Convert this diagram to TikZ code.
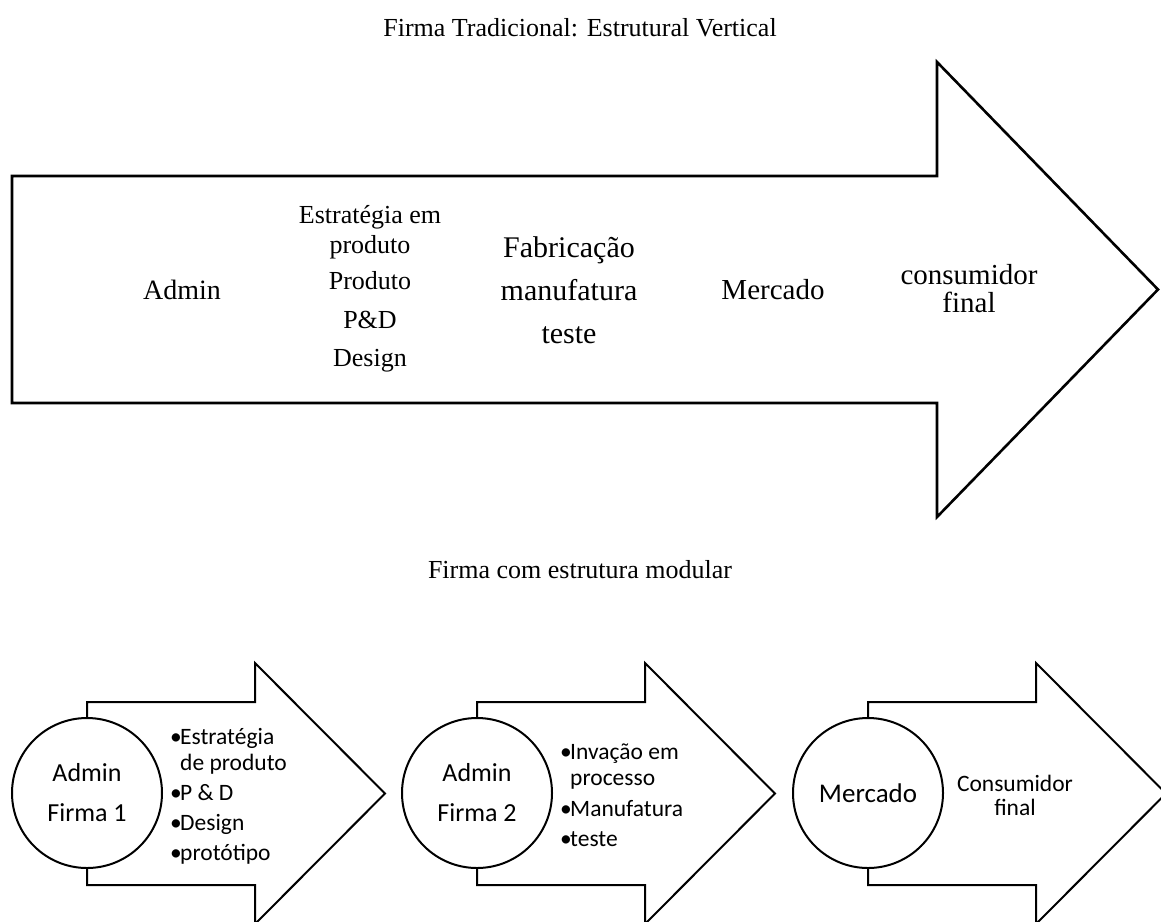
\documentclass[tikz,border=0pt]{standalone}
\usepackage{fontspec}
\setmainfont{Liberation Serif}
\newfontfamily\calibri{Carlito}
\usetikzlibrary{positioning}
\tikzset{
  every picture/.style={x=1pt, y=-1pt, line join=miter},
  title/.style={font=\fontsize{26}{30}\selectfont, inner sep=0pt},
  bigarrow/.style={draw, line width=2.6pt},
  bigtext/.style={align=center, inner sep=0pt, font=\fontsize{#1}{#1}\selectfont},
  bigtext/.default=28,
  smallarrow/.style={draw, line width=2pt},
  disc/.style={draw, line width=2pt, fill=white, circle, minimum size=150pt, inner sep=0pt, align=center, font=\calibri\fontsize{26}{40}\selectfont},
  items/.style={anchor=west, align=left, inner sep=0pt, font=\calibri\fontsize{23.5}{26}\selectfont},
}
\newcommand{\itm}{\makebox[10pt][l]{\textbullet}}
\newcommand{\cont}{\hspace*{10pt}}

\begin{document}
\begin{tikzpicture}
  \useasboundingbox (0,0) rectangle (1161,921);
  \clip (0,0) rectangle (1161,921);
  % vertical firm
  \node[title] (t1) at (580,28) {Firma Tradicional: Estrutural Vertical};
  \draw[bigarrow] (12,176) -- (937,176) -- (937,62) -- (1158,289.5) -- (937,517) -- (937,403) -- (12,403) -- cycle;
  \node[bigtext] (adm) at (182,290) {Admin};
  \node[bigtext=26, font=\fontsize{26}{30}\selectfont] (prd) at (370,289) {Estratégia em\\produto\\[6pt]Produto\\[9pt]P\&D\\[8pt]Design};
  \node[bigtext=30, font=\fontsize{30}{43}\selectfont] (fab) at (569,290) {Fabricação\\manufatura\\teste};
  \node[bigtext=29] (mer) at (773,290) {Mercado};
  \node[bigtext=29, font=\fontsize{29}{28}\selectfont] (con) at (969,289) {consumidor\\final};
  % modular firm
  \node[title] (t2) at (580,570) {Firma com estrutura modular};
  \foreach \dx in {0,390,781} {
    \begin{scope}[xshift=\dx pt]
      \draw[smallarrow] (87,702) -- (255,702) -- (255,663) -- (385,793.5) -- (255,924) -- (255,885) -- (87,885) -- cycle;
    \end{scope}
  }
  \node[disc] (f1) at (87,793) {Admin\\Firma 1};
  \node[items] (l1) at (170,796) {\itm Estratégia\\\cont de produto\\[4pt]\itm P \& D\\[4pt]\itm Design\\[4pt]\itm protótipo};
  \node[disc] (f2) at (477,793) {Admin\\Firma 2};
  \node[items] (l2) at (560,795) {\itm Invação em\\\cont processo\\[5pt]\itm Manufatura\\[4pt]\itm teste};
  \node[disc, font=\calibri\fontsize{27}{32}\selectfont] (f3) at (868,793) {Mercado};
  \node[align=center, inner sep=0pt, font=\calibri\fontsize{23.5}{24}\selectfont] (cf) at (1015,795) {Consumidor\\final};
\end{tikzpicture}
\end{document}
